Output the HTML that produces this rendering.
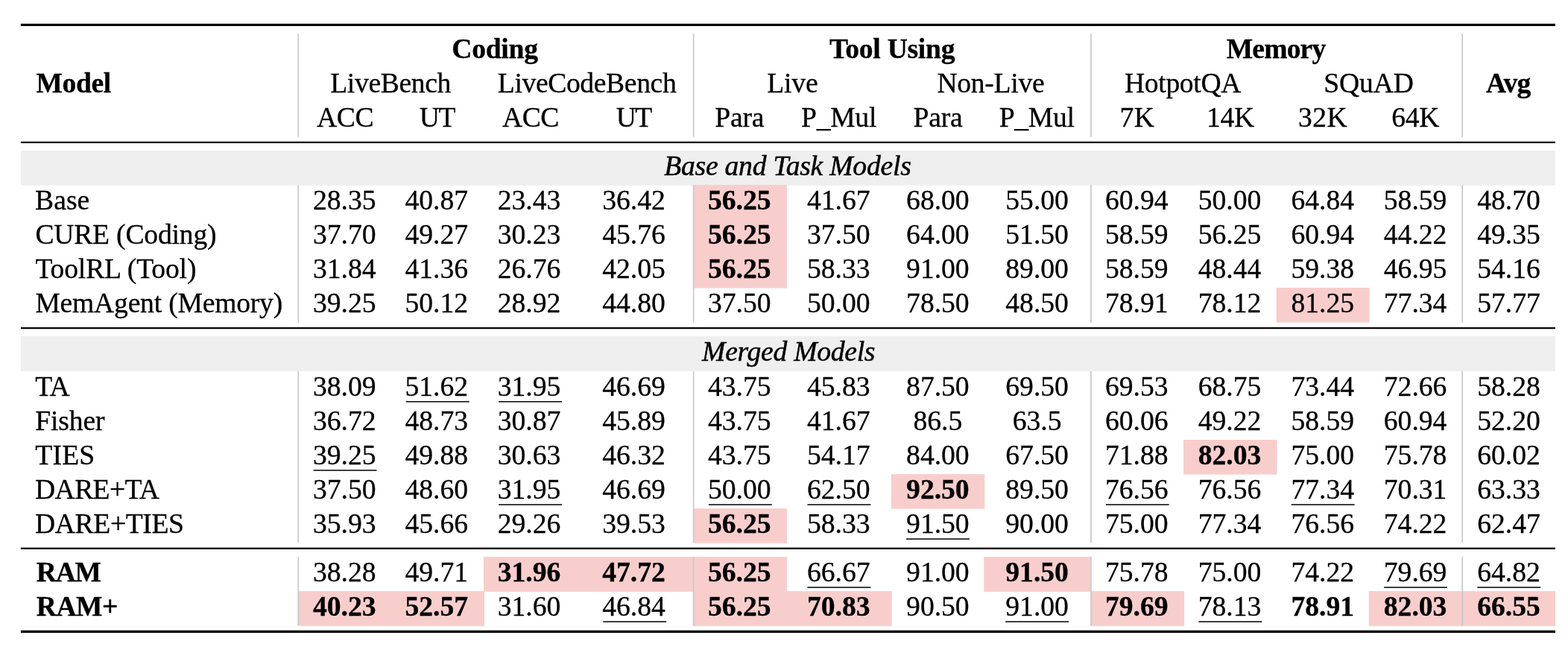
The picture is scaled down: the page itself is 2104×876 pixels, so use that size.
<!DOCTYPE html>
<html lang="en"><head><meta charset="utf-8"><title>Results table</title>
<style>
html,body{margin:0;padding:0;background:#fff}
body{width:2104px;height:876px;position:relative;overflow:hidden;font-family:"Liberation Serif","Times New Roman",Times,serif;font-size:37.6px;color:#000}
.bg{position:absolute;left:0;top:0}
.t{position:absolute;white-space:nowrap;line-height:46px;height:46px;transform:scaleY(1.032);transform-origin:0 35.00px;-webkit-text-stroke:0.3px #000;}
.n{width:200px;text-align:center}
.b{font-weight:bold}
.i{font-style:italic;-webkit-text-stroke:0.5px #000}
</style></head><body>
<svg class="bg" width="2104" height="876" viewBox="0 0 2104 876">
<rect x="27.90" y="202.00" width="2059.10" height="46.85" fill="#efefef"/>
<rect x="27.90" y="451.00" width="2059.10" height="46.85" fill="#efefef"/>
<rect x="930.50" y="247.90" width="125.50" height="46.60" fill="#f8cecc"/>
<rect x="930.50" y="293.95" width="125.50" height="46.60" fill="#f8cecc"/>
<rect x="930.50" y="340.00" width="125.50" height="46.60" fill="#f8cecc"/>
<rect x="1712.60" y="386.05" width="125.10" height="46.60" fill="#f8cecc"/>
<rect x="1588.00" y="590.00" width="125.60" height="46.60" fill="#f8cecc"/>
<rect x="1195.75" y="636.05" width="125.50" height="46.60" fill="#f8cecc"/>
<rect x="930.50" y="682.10" width="125.50" height="46.60" fill="#f8cecc"/>
<rect x="544.80" y="538.10" width="84.90" height="1.50" fill="#000"/>
<rect x="669.10" y="538.10" width="84.90" height="1.50" fill="#000"/>
<rect x="420.55" y="630.20" width="84.90" height="1.50" fill="#000"/>
<rect x="669.10" y="676.25" width="84.90" height="1.50" fill="#000"/>
<rect x="950.80" y="676.25" width="84.90" height="1.50" fill="#000"/>
<rect x="1083.42" y="676.25" width="84.90" height="1.50" fill="#000"/>
<rect x="1483.80" y="676.25" width="84.90" height="1.50" fill="#000"/>
<rect x="1732.70" y="676.25" width="84.90" height="1.50" fill="#000"/>
<rect x="1216.05" y="722.30" width="84.90" height="1.50" fill="#000"/>
<rect x="649.00" y="746.90" width="407.00" height="46.90" fill="#f8cecc"/>
<rect x="1320.25" y="746.90" width="142.75" height="46.90" fill="#f8cecc"/>
<rect x="400.50" y="792.95" width="249.50" height="46.90" fill="#f8cecc"/>
<rect x="930.50" y="792.95" width="266.25" height="46.90" fill="#f8cecc"/>
<rect x="1463.50" y="792.95" width="125.50" height="46.90" fill="#f8cecc"/>
<rect x="1836.70" y="792.95" width="250.30" height="46.90" fill="#f8cecc"/>
<rect x="1083.42" y="787.20" width="84.90" height="1.50" fill="#000"/>
<rect x="1857.10" y="787.20" width="84.90" height="1.50" fill="#000"/>
<rect x="1982.30" y="787.20" width="84.90" height="1.50" fill="#000"/>
<rect x="809.30" y="833.25" width="84.90" height="1.50" fill="#000"/>
<rect x="1349.17" y="833.25" width="84.90" height="1.50" fill="#000"/>
<rect x="1608.35" y="833.25" width="84.90" height="1.50" fill="#000"/>
<rect x="399.46" y="45.20" width="1.68" height="138.40" fill="#c8c8c8"/>
<rect x="399.46" y="248.00" width="1.68" height="184.90" fill="#c8c8c8"/>
<rect x="399.46" y="497.90" width="1.68" height="230.30" fill="#c8c8c8"/>
<rect x="399.46" y="746.90" width="1.68" height="92.70" fill="#c8c8c8"/>
<rect x="929.76" y="45.20" width="1.68" height="138.40" fill="#c8c8c8"/>
<rect x="929.76" y="248.00" width="1.68" height="184.90" fill="#c8c8c8"/>
<rect x="929.76" y="497.90" width="1.68" height="230.30" fill="#c8c8c8"/>
<rect x="929.76" y="746.90" width="1.68" height="92.70" fill="#c8c8c8"/>
<rect x="1463.11" y="45.20" width="1.68" height="138.40" fill="#c8c8c8"/>
<rect x="1463.11" y="248.00" width="1.68" height="184.90" fill="#c8c8c8"/>
<rect x="1463.11" y="497.90" width="1.68" height="230.30" fill="#c8c8c8"/>
<rect x="1463.11" y="746.90" width="1.68" height="92.70" fill="#c8c8c8"/>
<rect x="1961.36" y="45.20" width="1.68" height="138.40" fill="#c8c8c8"/>
<rect x="1961.36" y="248.00" width="1.68" height="184.90" fill="#c8c8c8"/>
<rect x="1961.36" y="497.90" width="1.68" height="230.30" fill="#c8c8c8"/>
<rect x="1961.36" y="746.90" width="1.68" height="92.70" fill="#c8c8c8"/>
<rect x="27.90" y="31.80" width="2059.10" height="3.15" fill="#000"/>
<rect x="27.90" y="189.90" width="2059.10" height="2.20" fill="#000"/>
<rect x="27.90" y="439.05" width="2059.10" height="2.20" fill="#000"/>
<rect x="27.90" y="734.60" width="2059.10" height="2.20" fill="#000"/>
<rect x="27.90" y="845.65" width="2059.10" height="3.30" fill="#000"/>
</svg>
<div class="t" style="left:47.00px;top:245px;letter-spacing:0.067px;transform:translateY(0.90px) scaleY(1.032)">Base</div>
<div class="t n" style="left:362.30px;top:245px;transform:translateY(0.90px) scaleY(1.032)">28.35</div>
<div class="t n" style="left:485.80px;top:245px;transform:translateY(0.90px) scaleY(1.032)">40.87</div>
<div class="t n" style="left:610.00px;top:245px;transform:translateY(0.90px) scaleY(1.032)">23.43</div>
<div class="t n" style="left:750.50px;top:245px;transform:translateY(0.90px) scaleY(1.032)">36.42</div>
<div class="t n b" style="left:892.30px;top:245px;transform:translateY(0.90px) scaleY(1.032)">56.25</div>
<div class="t n" style="left:1025.20px;top:245px;transform:translateY(0.90px) scaleY(1.032)">41.67</div>
<div class="t n" style="left:1158.40px;top:245px;transform:translateY(0.90px) scaleY(1.032)">68.00</div>
<div class="t n" style="left:1291.60px;top:245px;transform:translateY(0.90px) scaleY(1.032)">55.00</div>
<div class="t n" style="left:1425.20px;top:245px;transform:translateY(0.90px) scaleY(1.032)">60.94</div>
<div class="t n" style="left:1550.00px;top:245px;transform:translateY(0.90px) scaleY(1.032)">50.00</div>
<div class="t n" style="left:1674.70px;top:245px;transform:translateY(0.90px) scaleY(1.032)">64.84</div>
<div class="t n" style="left:1799.10px;top:245px;transform:translateY(0.90px) scaleY(1.032)">58.59</div>
<div class="t n" style="left:1924.50px;top:245px;transform:translateY(0.90px) scaleY(1.032)">48.70</div>
<div class="t" style="left:47.40px;top:291px;letter-spacing:-0.183px;transform:translateY(0.95px) scaleY(1.032)">CURE (Coding)</div>
<div class="t n" style="left:362.30px;top:291px;transform:translateY(0.95px) scaleY(1.032)">37.70</div>
<div class="t n" style="left:485.80px;top:291px;transform:translateY(0.95px) scaleY(1.032)">49.27</div>
<div class="t n" style="left:610.00px;top:291px;transform:translateY(0.95px) scaleY(1.032)">30.23</div>
<div class="t n" style="left:750.50px;top:291px;transform:translateY(0.95px) scaleY(1.032)">45.76</div>
<div class="t n b" style="left:892.30px;top:291px;transform:translateY(0.95px) scaleY(1.032)">56.25</div>
<div class="t n" style="left:1025.20px;top:291px;transform:translateY(0.95px) scaleY(1.032)">37.50</div>
<div class="t n" style="left:1158.40px;top:291px;transform:translateY(0.95px) scaleY(1.032)">64.00</div>
<div class="t n" style="left:1291.60px;top:291px;transform:translateY(0.95px) scaleY(1.032)">51.50</div>
<div class="t n" style="left:1425.20px;top:291px;transform:translateY(0.95px) scaleY(1.032)">58.59</div>
<div class="t n" style="left:1550.00px;top:291px;transform:translateY(0.95px) scaleY(1.032)">56.25</div>
<div class="t n" style="left:1674.70px;top:291px;transform:translateY(0.95px) scaleY(1.032)">60.94</div>
<div class="t n" style="left:1799.10px;top:291px;transform:translateY(0.95px) scaleY(1.032)">44.22</div>
<div class="t n" style="left:1924.50px;top:291px;transform:translateY(0.95px) scaleY(1.032)">49.35</div>
<div class="t" style="left:47.40px;top:338px;letter-spacing:-0.142px;transform:translateY(0.00px) scaleY(1.032)">ToolRL (Tool)</div>
<div class="t n" style="left:362.30px;top:338px;transform:translateY(0.00px) scaleY(1.032)">31.84</div>
<div class="t n" style="left:485.80px;top:338px;transform:translateY(0.00px) scaleY(1.032)">41.36</div>
<div class="t n" style="left:610.00px;top:338px;transform:translateY(0.00px) scaleY(1.032)">26.76</div>
<div class="t n" style="left:750.50px;top:338px;transform:translateY(0.00px) scaleY(1.032)">42.05</div>
<div class="t n b" style="left:892.30px;top:338px;transform:translateY(0.00px) scaleY(1.032)">56.25</div>
<div class="t n" style="left:1025.20px;top:338px;transform:translateY(0.00px) scaleY(1.032)">58.33</div>
<div class="t n" style="left:1158.40px;top:338px;transform:translateY(0.00px) scaleY(1.032)">91.00</div>
<div class="t n" style="left:1291.60px;top:338px;transform:translateY(0.00px) scaleY(1.032)">89.00</div>
<div class="t n" style="left:1425.20px;top:338px;transform:translateY(0.00px) scaleY(1.032)">58.59</div>
<div class="t n" style="left:1550.00px;top:338px;transform:translateY(0.00px) scaleY(1.032)">48.44</div>
<div class="t n" style="left:1674.70px;top:338px;transform:translateY(0.00px) scaleY(1.032)">59.38</div>
<div class="t n" style="left:1799.10px;top:338px;transform:translateY(0.00px) scaleY(1.032)">46.95</div>
<div class="t n" style="left:1924.50px;top:338px;transform:translateY(0.00px) scaleY(1.032)">54.16</div>
<div class="t" style="left:47.40px;top:384px;letter-spacing:-0.200px;transform:translateY(0.05px) scaleY(1.032)">MemAgent (Memory)</div>
<div class="t n" style="left:362.30px;top:384px;transform:translateY(0.05px) scaleY(1.032)">39.25</div>
<div class="t n" style="left:485.80px;top:384px;transform:translateY(0.05px) scaleY(1.032)">50.12</div>
<div class="t n" style="left:610.00px;top:384px;transform:translateY(0.05px) scaleY(1.032)">28.92</div>
<div class="t n" style="left:750.50px;top:384px;transform:translateY(0.05px) scaleY(1.032)">44.80</div>
<div class="t n" style="left:892.30px;top:384px;transform:translateY(0.05px) scaleY(1.032)">37.50</div>
<div class="t n" style="left:1025.20px;top:384px;transform:translateY(0.05px) scaleY(1.032)">50.00</div>
<div class="t n" style="left:1158.40px;top:384px;transform:translateY(0.05px) scaleY(1.032)">78.50</div>
<div class="t n" style="left:1291.60px;top:384px;transform:translateY(0.05px) scaleY(1.032)">48.50</div>
<div class="t n" style="left:1425.20px;top:384px;transform:translateY(0.05px) scaleY(1.032)">78.91</div>
<div class="t n" style="left:1550.00px;top:384px;transform:translateY(0.05px) scaleY(1.032)">78.12</div>
<div class="t n" style="left:1674.70px;top:384px;transform:translateY(0.05px) scaleY(1.032)">81.25</div>
<div class="t n" style="left:1799.10px;top:384px;transform:translateY(0.05px) scaleY(1.032)">77.34</div>
<div class="t n" style="left:1924.50px;top:384px;transform:translateY(0.05px) scaleY(1.032)">57.77</div>
<div class="t" style="left:47.30px;top:495px;letter-spacing:-0.800px;transform:translateY(0.90px) scaleY(1.032)">TA</div>
<div class="t n" style="left:362.30px;top:495px;transform:translateY(0.90px) scaleY(1.032)">38.09</div>
<div class="t n" style="left:485.80px;top:495px;transform:translateY(0.90px) scaleY(1.032)">51.62</div>
<div class="t n" style="left:610.00px;top:495px;transform:translateY(0.90px) scaleY(1.032)">31.95</div>
<div class="t n" style="left:750.50px;top:495px;transform:translateY(0.90px) scaleY(1.032)">46.69</div>
<div class="t n" style="left:892.30px;top:495px;transform:translateY(0.90px) scaleY(1.032)">43.75</div>
<div class="t n" style="left:1025.20px;top:495px;transform:translateY(0.90px) scaleY(1.032)">45.83</div>
<div class="t n" style="left:1158.40px;top:495px;transform:translateY(0.90px) scaleY(1.032)">87.50</div>
<div class="t n" style="left:1291.60px;top:495px;transform:translateY(0.90px) scaleY(1.032)">69.50</div>
<div class="t n" style="left:1425.20px;top:495px;transform:translateY(0.90px) scaleY(1.032)">69.53</div>
<div class="t n" style="left:1550.00px;top:495px;transform:translateY(0.90px) scaleY(1.032)">68.75</div>
<div class="t n" style="left:1674.70px;top:495px;transform:translateY(0.90px) scaleY(1.032)">73.44</div>
<div class="t n" style="left:1799.10px;top:495px;transform:translateY(0.90px) scaleY(1.032)">72.66</div>
<div class="t n" style="left:1924.50px;top:495px;transform:translateY(0.90px) scaleY(1.032)">58.28</div>
<div class="t" style="left:47.30px;top:541px;letter-spacing:-0.140px;transform:translateY(0.95px) scaleY(1.032)">Fisher</div>
<div class="t n" style="left:362.30px;top:541px;transform:translateY(0.95px) scaleY(1.032)">36.72</div>
<div class="t n" style="left:485.80px;top:541px;transform:translateY(0.95px) scaleY(1.032)">48.73</div>
<div class="t n" style="left:610.00px;top:541px;transform:translateY(0.95px) scaleY(1.032)">30.87</div>
<div class="t n" style="left:750.50px;top:541px;transform:translateY(0.95px) scaleY(1.032)">45.89</div>
<div class="t n" style="left:892.30px;top:541px;transform:translateY(0.95px) scaleY(1.032)">43.75</div>
<div class="t n" style="left:1025.20px;top:541px;transform:translateY(0.95px) scaleY(1.032)">41.67</div>
<div class="t n" style="left:1158.40px;top:541px;transform:translateY(0.95px) scaleY(1.032)">86.5</div>
<div class="t n" style="left:1291.60px;top:541px;transform:translateY(0.95px) scaleY(1.032)">63.5</div>
<div class="t n" style="left:1425.20px;top:541px;transform:translateY(0.95px) scaleY(1.032)">60.06</div>
<div class="t n" style="left:1550.00px;top:541px;transform:translateY(0.95px) scaleY(1.032)">49.22</div>
<div class="t n" style="left:1674.70px;top:541px;transform:translateY(0.95px) scaleY(1.032)">58.59</div>
<div class="t n" style="left:1799.10px;top:541px;transform:translateY(0.95px) scaleY(1.032)">60.94</div>
<div class="t n" style="left:1924.50px;top:541px;transform:translateY(0.95px) scaleY(1.032)">52.20</div>
<div class="t" style="left:47.30px;top:588px;letter-spacing:0.200px;transform:translateY(0.00px) scaleY(1.032)">TIES</div>
<div class="t n" style="left:362.30px;top:588px;transform:translateY(0.00px) scaleY(1.032)">39.25</div>
<div class="t n" style="left:485.80px;top:588px;transform:translateY(0.00px) scaleY(1.032)">49.88</div>
<div class="t n" style="left:610.00px;top:588px;transform:translateY(0.00px) scaleY(1.032)">30.63</div>
<div class="t n" style="left:750.50px;top:588px;transform:translateY(0.00px) scaleY(1.032)">46.32</div>
<div class="t n" style="left:892.30px;top:588px;transform:translateY(0.00px) scaleY(1.032)">43.75</div>
<div class="t n" style="left:1025.20px;top:588px;transform:translateY(0.00px) scaleY(1.032)">54.17</div>
<div class="t n" style="left:1158.40px;top:588px;transform:translateY(0.00px) scaleY(1.032)">84.00</div>
<div class="t n" style="left:1291.60px;top:588px;transform:translateY(0.00px) scaleY(1.032)">67.50</div>
<div class="t n" style="left:1425.20px;top:588px;transform:translateY(0.00px) scaleY(1.032)">71.88</div>
<div class="t n b" style="left:1550.00px;top:588px;transform:translateY(0.00px) scaleY(1.032)">82.03</div>
<div class="t n" style="left:1674.70px;top:588px;transform:translateY(0.00px) scaleY(1.032)">75.00</div>
<div class="t n" style="left:1799.10px;top:588px;transform:translateY(0.00px) scaleY(1.032)">75.78</div>
<div class="t n" style="left:1924.50px;top:588px;transform:translateY(0.00px) scaleY(1.032)">60.02</div>
<div class="t" style="left:47.10px;top:634px;letter-spacing:-0.617px;transform:translateY(0.05px) scaleY(1.032)">DARE+TA</div>
<div class="t n" style="left:362.30px;top:634px;transform:translateY(0.05px) scaleY(1.032)">37.50</div>
<div class="t n" style="left:485.80px;top:634px;transform:translateY(0.05px) scaleY(1.032)">48.60</div>
<div class="t n" style="left:610.00px;top:634px;transform:translateY(0.05px) scaleY(1.032)">31.95</div>
<div class="t n" style="left:750.50px;top:634px;transform:translateY(0.05px) scaleY(1.032)">46.69</div>
<div class="t n" style="left:892.30px;top:634px;transform:translateY(0.05px) scaleY(1.032)">50.00</div>
<div class="t n" style="left:1025.20px;top:634px;transform:translateY(0.05px) scaleY(1.032)">62.50</div>
<div class="t n b" style="left:1158.40px;top:634px;transform:translateY(0.05px) scaleY(1.032)">92.50</div>
<div class="t n" style="left:1291.60px;top:634px;transform:translateY(0.05px) scaleY(1.032)">89.50</div>
<div class="t n" style="left:1425.20px;top:634px;transform:translateY(0.05px) scaleY(1.032)">76.56</div>
<div class="t n" style="left:1550.00px;top:634px;transform:translateY(0.05px) scaleY(1.032)">76.56</div>
<div class="t n" style="left:1674.70px;top:634px;transform:translateY(0.05px) scaleY(1.032)">77.34</div>
<div class="t n" style="left:1799.10px;top:634px;transform:translateY(0.05px) scaleY(1.032)">70.31</div>
<div class="t n" style="left:1924.50px;top:634px;transform:translateY(0.05px) scaleY(1.032)">63.33</div>
<div class="t" style="left:47.10px;top:680px;letter-spacing:-0.375px;transform:translateY(0.10px) scaleY(1.032)">DARE+TIES</div>
<div class="t n" style="left:362.30px;top:680px;transform:translateY(0.10px) scaleY(1.032)">35.93</div>
<div class="t n" style="left:485.80px;top:680px;transform:translateY(0.10px) scaleY(1.032)">45.66</div>
<div class="t n" style="left:610.00px;top:680px;transform:translateY(0.10px) scaleY(1.032)">29.26</div>
<div class="t n" style="left:750.50px;top:680px;transform:translateY(0.10px) scaleY(1.032)">39.53</div>
<div class="t n b" style="left:892.30px;top:680px;transform:translateY(0.10px) scaleY(1.032)">56.25</div>
<div class="t n" style="left:1025.20px;top:680px;transform:translateY(0.10px) scaleY(1.032)">58.33</div>
<div class="t n" style="left:1158.40px;top:680px;transform:translateY(0.10px) scaleY(1.032)">91.50</div>
<div class="t n" style="left:1291.60px;top:680px;transform:translateY(0.10px) scaleY(1.032)">90.00</div>
<div class="t n" style="left:1425.20px;top:680px;transform:translateY(0.10px) scaleY(1.032)">75.00</div>
<div class="t n" style="left:1550.00px;top:680px;transform:translateY(0.10px) scaleY(1.032)">77.34</div>
<div class="t n" style="left:1674.70px;top:680px;transform:translateY(0.10px) scaleY(1.032)">76.56</div>
<div class="t n" style="left:1799.10px;top:680px;transform:translateY(0.10px) scaleY(1.032)">74.22</div>
<div class="t n" style="left:1924.50px;top:680px;transform:translateY(0.10px) scaleY(1.032)">62.47</div>
<div class="t b" style="left:48.85px;top:745px;letter-spacing:-1.275px;transform:translateY(0.00px) scaleY(1.032)">RAM</div>
<div class="t n" style="left:362.30px;top:745px;transform:translateY(0.00px) scaleY(1.032)">38.28</div>
<div class="t n" style="left:485.80px;top:745px;transform:translateY(0.00px) scaleY(1.032)">49.71</div>
<div class="t n b" style="left:610.00px;top:745px;transform:translateY(0.00px) scaleY(1.032)">31.96</div>
<div class="t n b" style="left:750.50px;top:745px;transform:translateY(0.00px) scaleY(1.032)">47.72</div>
<div class="t n b" style="left:892.30px;top:745px;transform:translateY(0.00px) scaleY(1.032)">56.25</div>
<div class="t n" style="left:1025.20px;top:745px;transform:translateY(0.00px) scaleY(1.032)">66.67</div>
<div class="t n" style="left:1158.40px;top:745px;transform:translateY(0.00px) scaleY(1.032)">91.00</div>
<div class="t n b" style="left:1291.60px;top:745px;transform:translateY(0.00px) scaleY(1.032)">91.50</div>
<div class="t n" style="left:1425.20px;top:745px;transform:translateY(0.00px) scaleY(1.032)">75.78</div>
<div class="t n" style="left:1550.00px;top:745px;transform:translateY(0.00px) scaleY(1.032)">75.00</div>
<div class="t n" style="left:1674.70px;top:745px;transform:translateY(0.00px) scaleY(1.032)">74.22</div>
<div class="t n" style="left:1799.10px;top:745px;transform:translateY(0.00px) scaleY(1.032)">79.69</div>
<div class="t n" style="left:1924.50px;top:745px;transform:translateY(0.00px) scaleY(1.032)">64.82</div>
<div class="t b" style="left:48.85px;top:791px;letter-spacing:-0.517px;transform:translateY(0.05px) scaleY(1.032)">RAM+</div>
<div class="t n b" style="left:362.30px;top:791px;transform:translateY(0.05px) scaleY(1.032)">40.23</div>
<div class="t n b" style="left:485.80px;top:791px;transform:translateY(0.05px) scaleY(1.032)">52.57</div>
<div class="t n" style="left:610.00px;top:791px;transform:translateY(0.05px) scaleY(1.032)">31.60</div>
<div class="t n" style="left:750.50px;top:791px;transform:translateY(0.05px) scaleY(1.032)">46.84</div>
<div class="t n b" style="left:892.30px;top:791px;transform:translateY(0.05px) scaleY(1.032)">56.25</div>
<div class="t n b" style="left:1025.20px;top:791px;transform:translateY(0.05px) scaleY(1.032)">70.83</div>
<div class="t n" style="left:1158.40px;top:791px;transform:translateY(0.05px) scaleY(1.032)">90.50</div>
<div class="t n" style="left:1291.60px;top:791px;transform:translateY(0.05px) scaleY(1.032)">91.00</div>
<div class="t n b" style="left:1425.20px;top:791px;transform:translateY(0.05px) scaleY(1.032)">79.69</div>
<div class="t n" style="left:1550.00px;top:791px;transform:translateY(0.05px) scaleY(1.032)">78.13</div>
<div class="t n b" style="left:1674.70px;top:791px;transform:translateY(0.05px) scaleY(1.032)">78.91</div>
<div class="t n b" style="left:1799.10px;top:791px;transform:translateY(0.05px) scaleY(1.032)">82.03</div>
<div class="t n b" style="left:1924.50px;top:791px;transform:translateY(0.05px) scaleY(1.032)">66.55</div>
<div class="t i" style="left:891.20px;top:199px;letter-spacing:-0.221px;transform:translateY(0.90px) scaleY(1.0)">Base and Task Models</div>
<div class="t i" style="left:942.10px;top:448px;letter-spacing:-0.258px;transform:translateY(0.90px) scaleY(1.0)">Merged Models</div>
<div class="t b" style="left:48.40px;top:89px;letter-spacing:-0.375px;transform:translateY(0.25px) scaleY(1.032)">Model</div>
<div class="t b" style="left:606.25px;top:43px;letter-spacing:-0.250px;transform:translateY(0.20px) scaleY(1.032)">Coding</div>
<div class="t b" style="left:1113.00px;top:43px;letter-spacing:-0.278px;transform:translateY(0.20px) scaleY(1.032)">Tool Using</div>
<div class="t b" style="left:1645.75px;top:43px;letter-spacing:-0.850px;transform:translateY(0.20px) scaleY(1.032)">Memory</div>
<div class="t b" style="left:1994.00px;top:89px;letter-spacing:-0.850px;transform:translateY(0.25px) scaleY(1.032)">Avg</div>
<div class="t" style="left:443.25px;top:89px;letter-spacing:-0.344px;transform:translateY(0.25px) scaleY(1.032)">LiveBench</div>
<div class="t" style="left:667.80px;top:89px;letter-spacing:-0.358px;transform:translateY(0.25px) scaleY(1.032)">LiveCodeBench</div>
<div class="t" style="left:1029.25px;top:89px;letter-spacing:-0.167px;transform:translateY(0.25px) scaleY(1.032)">Live</div>
<div class="t" style="left:1257.50px;top:89px;letter-spacing:-0.286px;transform:translateY(0.25px) scaleY(1.032)">Non-Live</div>
<div class="t" style="left:1509.00px;top:89px;letter-spacing:-0.321px;transform:translateY(0.25px) scaleY(1.032)">HotpotQA</div>
<div class="t" style="left:1776.25px;top:89px;letter-spacing:-0.125px;transform:translateY(0.25px) scaleY(1.032)">SQuAD</div>
<div class="t" style="left:425.05px;top:135px;letter-spacing:-0.425px;transform:translateY(0.20px) scaleY(1.032)">ACC</div>
<div class="t" style="left:562.75px;top:135px;letter-spacing:-1.500px;transform:translateY(0.20px) scaleY(1.032)">UT</div>
<div class="t" style="left:674.10px;top:135px;letter-spacing:-0.550px;transform:translateY(0.20px) scaleY(1.032)">ACC</div>
<div class="t" style="left:826.70px;top:135px;letter-spacing:-1.600px;transform:translateY(0.20px) scaleY(1.032)">UT</div>
<div class="t" style="left:959.25px;top:135px;letter-spacing:-0.167px;transform:translateY(0.20px) scaleY(1.032)">Para</div>
<div class="t" style="left:1075.00px;top:135px;letter-spacing:-0.250px;transform:translateY(0.20px) scaleY(1.032)">P_Mul</div>
<div class="t" style="left:1225.50px;top:135px;letter-spacing:-0.167px;transform:translateY(0.20px) scaleY(1.032)">Para</div>
<div class="t" style="left:1340.75px;top:135px;letter-spacing:-0.312px;transform:translateY(0.20px) scaleY(1.032)">P_Mul</div>
<div class="t" style="left:1502.50px;top:135px;letter-spacing:0.500px;transform:translateY(0.20px) scaleY(1.032)">7K</div>
<div class="t" style="left:1619.00px;top:135px;letter-spacing:-0.250px;transform:translateY(0.20px) scaleY(1.032)">14K</div>
<div class="t" style="left:1742.00px;top:135px;letter-spacing:0.500px;transform:translateY(0.20px) scaleY(1.032)">32K</div>
<div class="t" style="left:1867.25px;top:135px;letter-spacing:-0.250px;transform:translateY(0.20px) scaleY(1.032)">64K</div>
</body></html>
